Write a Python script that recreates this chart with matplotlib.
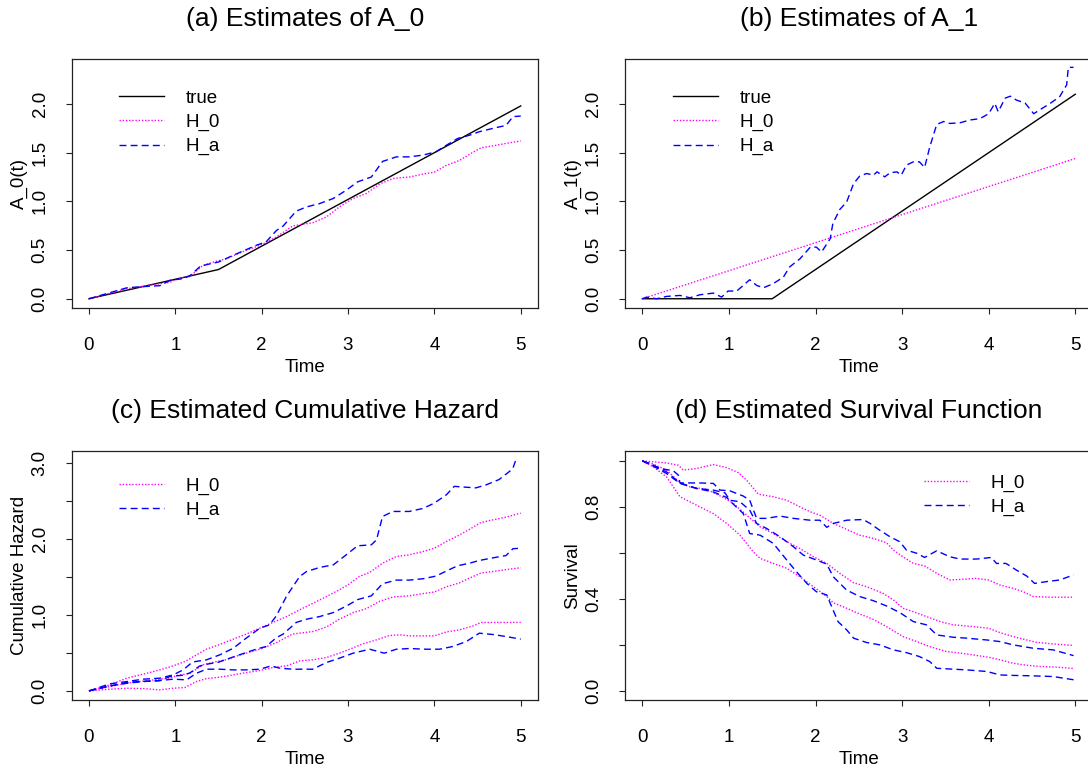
import matplotlib
matplotlib.use("Agg")
import matplotlib.pyplot as plt

plt.rcParams['font.family'] = ['Liberation Sans', 'DejaVu Sans']

W, H, DPI = 1088, 774, 100

# ---------------- (a) Estimates of A_0 ----------------
a_true_t = [0, 1.5, 5]
a_true_v = [0, 0.3, 1.98]

a_h0_t = [0, 0.44, 0.67, 0.94, 1.03, 1.17, 1.25, 1.32, 1.48, 1.59, 1.75, 2.0, 2.17,
          2.36, 2.59, 2.75, 2.9, 3.06, 3.21, 3.37, 3.52, 3.71, 3.87, 4.0, 4.14,
          4.29, 4.41, 4.54, 4.68, 4.83, 5.0]
a_h0_v = [0, 0.103, 0.134, 0.17, 0.206, 0.23, 0.29, 0.343, 0.387, 0.41, 0.473, 0.556,
          0.634, 0.748, 0.78, 0.84, 0.943, 1.03, 1.08, 1.18, 1.235, 1.25, 1.28, 1.30,
          1.37, 1.42, 1.485, 1.55, 1.57, 1.595, 1.62]

a_ha_t = [0, 0.44, 0.67, 0.82, 0.94, 1.09, 1.17, 1.28, 1.36, 1.5, 1.63, 1.75, 1.94,
          2.05, 2.17, 2.25, 2.4, 2.52, 2.67, 2.83, 2.98, 3.11, 3.27, 3.4, 3.56, 3.71,
          3.87, 4.02, 4.14, 4.27, 4.41, 4.52, 4.68, 4.83, 4.91, 5.0]
a_ha_v = [0, 0.113, 0.127, 0.134, 0.19, 0.206, 0.237, 0.326, 0.35, 0.377, 0.43, 0.477,
          0.55, 0.583, 0.70, 0.748, 0.90, 0.943, 0.977, 1.03, 1.115, 1.2, 1.25, 1.41,
          1.457, 1.457, 1.475, 1.51, 1.577, 1.646, 1.68, 1.715, 1.75, 1.78, 1.87, 1.876]

# ---------------- (b) Estimates of A_1 ----------------
b_true_t = [0, 1.5, 5]
b_true_v = [0, 0.0, 2.10]

b_h0_t = [0, 5]
b_h0_v = [0, 1.44]

b_ha_t = [0, 0.05, 0.165, 0.28, 0.435, 0.55, 0.666, 0.82, 0.916, 0.99, 1.09, 1.166,
          1.24, 1.32, 1.4, 1.51, 1.63, 1.7, 1.82, 1.94, 2.01, 2.07, 2.17, 2.2, 2.28,
          2.36, 2.44, 2.51, 2.59, 2.67, 2.71, 2.8, 2.86, 2.94, 2.99, 3.05, 3.13, 3.2,
          3.26, 3.32, 3.4, 3.48, 3.55, 3.67, 3.78, 3.9, 4.0, 4.07, 4.11, 4.19, 4.25,
          4.32, 4.42, 4.52, 4.59, 4.71, 4.82, 4.9, 4.92, 4.98]
b_ha_v = [0, 0.017, 0.0, 0.024, 0.034, 0.01, 0.041, 0.058, 0.017, 0.079, 0.079, 0.137,
          0.195, 0.137, 0.113, 0.154, 0.223, 0.326, 0.41, 0.53, 0.53, 0.48, 0.617,
          0.772, 0.916, 0.994, 1.183, 1.259, 1.286, 1.269, 1.303, 1.252, 1.293, 1.303,
          1.269, 1.372, 1.406, 1.406, 1.348, 1.56, 1.79, 1.82, 1.80, 1.807, 1.835,
          1.85, 1.90, 2.006, 1.92, 2.06, 2.08, 2.04, 2.01, 1.90, 1.94, 2.006, 2.075,
          2.195, 2.376, 2.376]

# ---------------- (c) Estimated Cumulative Hazard ----------------
# middle curves are the A_0 estimates from (a); bands above and below
c_h0_up_t = [0, 0.24, 0.44, 0.67, 0.82, 0.975, 1.11, 1.245, 1.36, 1.515, 1.67, 1.82,
             1.98, 2.13, 2.29, 2.44, 2.59, 2.75, 2.9, 3.0, 3.13, 3.25, 3.4, 3.56, 3.71,
             3.87, 4.0, 4.14, 4.29, 4.41, 4.54, 4.68, 4.83, 5.0]
c_h0_up_v = [0, 0.079, 0.167, 0.232, 0.276, 0.329, 0.386, 0.474, 0.548, 0.61, 0.68,
             0.746, 0.825, 0.9, 0.978, 1.066, 1.15, 1.24, 1.33, 1.395, 1.504, 1.557,
             1.68, 1.767, 1.79, 1.833, 1.877, 1.965, 2.05, 2.127, 2.215, 2.25, 2.285,
             2.338]

c_h0_lo_t = [0, 0.24, 0.44, 0.63, 0.82, 0.975, 1.11, 1.245, 1.36, 1.515, 1.67, 1.82,
             1.98, 2.13, 2.29, 2.44, 2.59, 2.75, 2.9, 3.02, 3.17, 3.33, 3.48, 3.6, 3.71,
             3.87, 4.0, 4.14, 4.29, 4.45, 4.54, 4.68, 4.83, 5.0]
c_h0_lo_v = [0, 0.022, 0.035, 0.03, 0.013, 0.035, 0.044, 0.123, 0.162, 0.18, 0.21,
             0.24, 0.268, 0.307, 0.329, 0.395, 0.408, 0.439, 0.496, 0.548, 0.618,
             0.671, 0.728, 0.737, 0.724, 0.724, 0.724, 0.776, 0.803, 0.855, 0.9, 0.9,
             0.9, 0.9]

c_ha_up_t = [0, 0.24, 0.44, 0.63, 0.82, 0.975, 1.09, 1.2, 1.36, 1.515, 1.67, 1.82,
             1.98, 2.09, 2.17, 2.29, 2.44, 2.52, 2.67, 2.83, 2.98, 3.11, 3.27, 3.33,
             3.4, 3.52, 3.71, 3.87, 4.0, 4.14, 4.23, 4.35, 4.48, 4.6, 4.75, 4.87, 4.91,
             4.95]
c_ha_up_v = [0, 0.092, 0.123, 0.154, 0.167, 0.21, 0.276, 0.38, 0.408, 0.474, 0.56,
             0.693, 0.825, 0.868, 0.987, 1.25, 1.504, 1.57, 1.623, 1.658, 1.79, 1.908,
             1.921, 1.987, 2.294, 2.36, 2.36, 2.40, 2.47, 2.58, 2.69, 2.68, 2.67, 2.71,
             2.78, 2.886, 2.93, 3.06]

c_ha_lo_t = [0, 0.24, 0.44, 0.63, 0.82, 0.975, 1.13, 1.245, 1.36, 1.515, 1.67, 1.82,
             1.98, 2.11, 2.21, 2.36, 2.59, 2.75, 2.9, 3.06, 3.25, 3.42, 3.56, 3.71, 3.9,
             4.06, 4.21, 4.37, 4.52, 4.68, 4.83, 5.0]
c_ha_lo_v = [0, 0.066, 0.1, 0.123, 0.136, 0.154, 0.145, 0.232, 0.285, 0.285, 0.276,
             0.276, 0.285, 0.329, 0.298, 0.285, 0.285, 0.373, 0.43, 0.496, 0.548, 0.496,
             0.548, 0.557, 0.548, 0.548, 0.583, 0.649, 0.759, 0.741, 0.715, 0.68]

# ---------------- (d) Estimated Survival Function ----------------
d_h0_up_t = [0, 0.127, 0.28, 0.416, 0.473, 0.627, 0.82, 0.974, 1.108, 1.205, 1.34,
             1.513, 1.667, 1.82, 1.936, 2.05, 2.205, 2.36, 2.51, 2.667, 2.82, 2.9,
             3.01, 3.13, 3.26, 3.4, 3.55, 3.7, 3.86, 4.0, 4.13, 4.28, 4.4, 4.515, 4.71,
             4.98]
d_h0_up_v = [1.0, 0.996, 0.991, 0.981, 0.96, 0.967, 0.984, 0.971, 0.949, 0.916, 0.855,
             0.844, 0.829, 0.80, 0.779, 0.764, 0.728, 0.702, 0.677, 0.663, 0.644, 0.612,
             0.583, 0.554, 0.543, 0.511, 0.482, 0.485, 0.489, 0.482, 0.46, 0.446, 0.431,
             0.41, 0.407, 0.407]

d_h0_mid_t = [0, 0.127, 0.28, 0.435, 0.55, 0.743, 0.935, 1.05, 1.205, 1.36, 1.513,
              1.705, 1.82, 1.975, 2.13, 2.28, 2.44, 2.59, 2.78, 2.9, 3.01, 3.13, 3.28,
              3.44, 3.59, 3.745, 3.9, 4.0, 4.13, 4.28, 4.44, 4.55, 4.745, 4.98]
d_h0_mid_v = [1.0, 0.986, 0.96, 0.904, 0.887, 0.876, 0.841, 0.815, 0.764, 0.713, 0.684,
              0.641, 0.619, 0.583, 0.554, 0.511, 0.47, 0.453, 0.424, 0.395, 0.359, 0.344,
              0.323, 0.301, 0.287, 0.282, 0.276, 0.272, 0.253, 0.236, 0.221, 0.211,
              0.204, 0.197]

d_h0_lo_t = [0, 0.127, 0.28, 0.435, 0.627, 0.82, 0.974, 1.128, 1.28, 1.36, 1.513,
             1.667, 1.82, 1.975, 2.13, 2.205, 2.36, 2.51, 2.667, 2.82, 3.01, 3.17, 3.32,
             3.51, 3.67, 3.82, 4.0, 4.13, 4.28, 4.44, 4.59, 4.78, 4.98]
d_h0_lo_v = [1.0, 0.974, 0.93, 0.844, 0.807, 0.771, 0.728, 0.677, 0.605, 0.576, 0.554,
             0.533, 0.496, 0.453, 0.41, 0.383, 0.359, 0.334, 0.311, 0.279, 0.236, 0.214,
             0.192, 0.171, 0.164, 0.156, 0.146, 0.135, 0.12, 0.111, 0.106, 0.103, 0.097]

d_ha_up_t = [0, 0.09, 0.204, 0.358, 0.416, 0.435, 0.666, 0.82, 0.897, 1.01, 1.166,
             1.24, 1.32, 1.436, 1.59, 1.744, 1.936, 2.05, 2.13, 2.205, 2.36, 2.55, 2.63,
             2.74, 2.86, 2.975, 3.05, 3.17, 3.26, 3.4, 3.55, 3.67, 3.86, 4.03, 4.09,
             4.2, 4.32, 4.44, 4.53, 4.67, 4.82, 4.98]
d_ha_up_v = [1.0, 0.988, 0.967, 0.957, 0.938, 0.904, 0.904, 0.902, 0.873, 0.87, 0.847,
             0.829, 0.75, 0.75, 0.76, 0.75, 0.742, 0.742, 0.711, 0.728, 0.742, 0.745,
             0.728, 0.699, 0.67, 0.648, 0.612, 0.598, 0.58, 0.609, 0.583, 0.573, 0.573,
             0.58, 0.554, 0.554, 0.525, 0.499, 0.467, 0.475, 0.482, 0.504]

d_ha_mid_t = [0, 0.127, 0.28, 0.435, 0.627, 0.82, 0.955, 1.01, 1.128, 1.24, 1.32,
              1.436, 1.59, 1.744, 1.86, 2.01, 2.13, 2.205, 2.36, 2.51, 2.667, 2.82,
              2.975, 3.13, 3.28, 3.4, 3.59, 3.745, 3.98, 4.13, 4.28, 4.515, 4.745, 4.98]
d_ha_mid_v = [1.0, 0.981, 0.952, 0.904, 0.88, 0.873, 0.861, 0.829, 0.822, 0.786, 0.728,
              0.706, 0.67, 0.627, 0.59, 0.569, 0.551, 0.496, 0.438, 0.41, 0.392, 0.369,
              0.34, 0.301, 0.287, 0.243, 0.233, 0.229, 0.221, 0.214, 0.2, 0.185, 0.178,
              0.153]

d_ha_lo_t = [0, 0.127, 0.28, 0.435, 0.627, 0.82, 0.974, 1.05, 1.166, 1.24, 1.36,
             1.513, 1.667, 1.78, 1.9, 2.01, 2.13, 2.17, 2.26, 2.36, 2.44, 2.59, 2.74,
             2.9, 3.05, 3.2, 3.32, 3.4, 3.59, 3.745, 3.98, 4.13, 4.28, 4.515, 4.745,
             4.98]
d_ha_lo_v = [1.0, 0.977, 0.945, 0.902, 0.88, 0.865, 0.841, 0.812, 0.771, 0.684, 0.677,
             0.641, 0.569, 0.518, 0.467, 0.431, 0.417, 0.381, 0.301, 0.265, 0.229, 0.21,
             0.2, 0.178, 0.166, 0.149, 0.127, 0.098, 0.094, 0.091, 0.084, 0.069, 0.067,
             0.065, 0.062, 0.048]

# ---------------- figure ----------------
FS = 13.5
TITLE_FS = 19
TRUE_STYLE = dict(color='black', lw=1.0, linestyle='-')
H0_STYLE = dict(color='#FF00FF', lw=1.0, linestyle=(0, (1, 1.3)))
HA_STYLE = dict(color='#0000FF', lw=1.0, linestyle=(0, (5, 3)))

fig = plt.figure(figsize=(W / DPI, H / DPI), dpi=DPI)


def box(left, top, right, bottom):
    return [left / W, 1 - bottom / H, (right - left) / W, (bottom - top) / H]


def style_axes(ax, ylim, yticks, ylabels, ylabel, title):
    ax.set_xlim(-0.2, 5.2)
    ax.set_ylim(*ylim)
    ax.set_xticks(range(6))
    ax.set_xticklabels([str(i) for i in range(6)])
    ax.set_yticks(yticks)
    ax.set_yticklabels(ylabels, rotation=90, va='center')
    for s in ax.spines.values():
        s.set_linewidth(0.9)
        s.set_color('#222222')
    ax.tick_params(axis='both', direction='out', length=4.2, width=0.8,
                   labelsize=FS, colors='#222222', labelcolor='black')
    ax.tick_params(axis='x', pad=16.5)
    ax.tick_params(axis='y', pad=12.5)
    ax.set_xlabel('Time', fontsize=FS)
    ax.xaxis.set_label_coords(0.5, -0.205)
    ax.set_ylabel(ylabel, fontsize=FS)
    ax.yaxis.set_label_coords(-0.093, 0.5)
    ax.set_title(title, fontsize=TITLE_FS, pad=23.5)


def legend(ax, handles, labels, x, y):
    ax.legend(handles, labels, loc='upper left', bbox_to_anchor=(x, y),
              frameon=False, fontsize=FS, handlelength=2.4, handletextpad=1.15,
              labelspacing=0.37, borderpad=0, borderaxespad=0)


ab_ticks = [0, 0.5, 1.0, 1.5, 2.0]
ab_labels = ['0.0', '0.5', '1.0', '1.5', '2.0']
ab_ylim = (-0.095, 2.467)

# (a)
ax = fig.add_axes(box(71.7, 58.5, 538, 308))
l1, = ax.plot(a_true_t, a_true_v, **TRUE_STYLE)
l2, = ax.plot(a_h0_t, a_h0_v, **H0_STYLE)
l3, = ax.plot(a_ha_t, a_ha_v, **HA_STYLE)
style_axes(ax, ab_ylim, ab_ticks, ab_labels, 'A_0(t)', '(a) Estimates of A_0')
legend(ax, [l1, l2, l3], ['true', 'H_0', 'H_a'], 0.102, 0.875)

# (b)
ax = fig.add_axes(box(625, 58.5, 1092.6, 308))
l1, = ax.plot(b_true_t, b_true_v, **TRUE_STYLE)
l2, = ax.plot(b_h0_t, b_h0_v, **H0_STYLE)
l3, = ax.plot(b_ha_t, b_ha_v, **HA_STYLE)
style_axes(ax, ab_ylim, ab_ticks, ab_labels, 'A_1(t)', '(b) Estimates of A_1')
legend(ax, [l1, l2, l3], ['true', 'H_0', 'H_a'], 0.1033, 0.875)

# (c)
ax = fig.add_axes(box(71.7, 451, 538, 700))
l2, = ax.plot(a_h0_t, a_h0_v, **H0_STYLE)
ax.plot(c_h0_up_t, c_h0_up_v, **H0_STYLE)
ax.plot(c_h0_lo_t, c_h0_lo_v, **H0_STYLE)
l3, = ax.plot(a_ha_t, a_ha_v, **HA_STYLE)
ax.plot(c_ha_up_t, c_ha_up_v, **HA_STYLE)
ax.plot(c_ha_lo_t, c_ha_lo_v, **HA_STYLE)
style_axes(ax, (-0.12, 3.155), [0, 0.5, 1.0, 1.5, 2.0, 2.5, 3.0],
           ['0.0', '', '1.0', '', '2.0', '', '3.0'],
           'Cumulative Hazard', '(c) Estimated Cumulative Hazard')
legend(ax, [l2, l3], ['H_0', 'H_a'], 0.102, 0.894)

# (d)
ax = fig.add_axes(box(625, 451, 1092.6, 700))
l2, = ax.plot(d_h0_mid_t, d_h0_mid_v, **H0_STYLE)
ax.plot(d_h0_up_t, d_h0_up_v, **H0_STYLE)
ax.plot(d_h0_lo_t, d_h0_lo_v, **H0_STYLE)
l3, = ax.plot(d_ha_mid_t, d_ha_mid_v, **HA_STYLE)
ax.plot(d_ha_up_t, d_ha_up_v, **HA_STYLE)
ax.plot(d_ha_lo_t, d_ha_lo_v, **HA_STYLE)
style_axes(ax, (-0.04, 1.043), [0, 0.2, 0.4, 0.6, 0.8, 1.0],
           ['0.0', '', '0.4', '', '0.8', ''],
           'Survival', '(d) Estimated Survival Function')
legend(ax, [l2, l3], ['H_0', 'H_a'], 0.6394, 0.905)

fig.savefig('out.png', dpi=DPI)
